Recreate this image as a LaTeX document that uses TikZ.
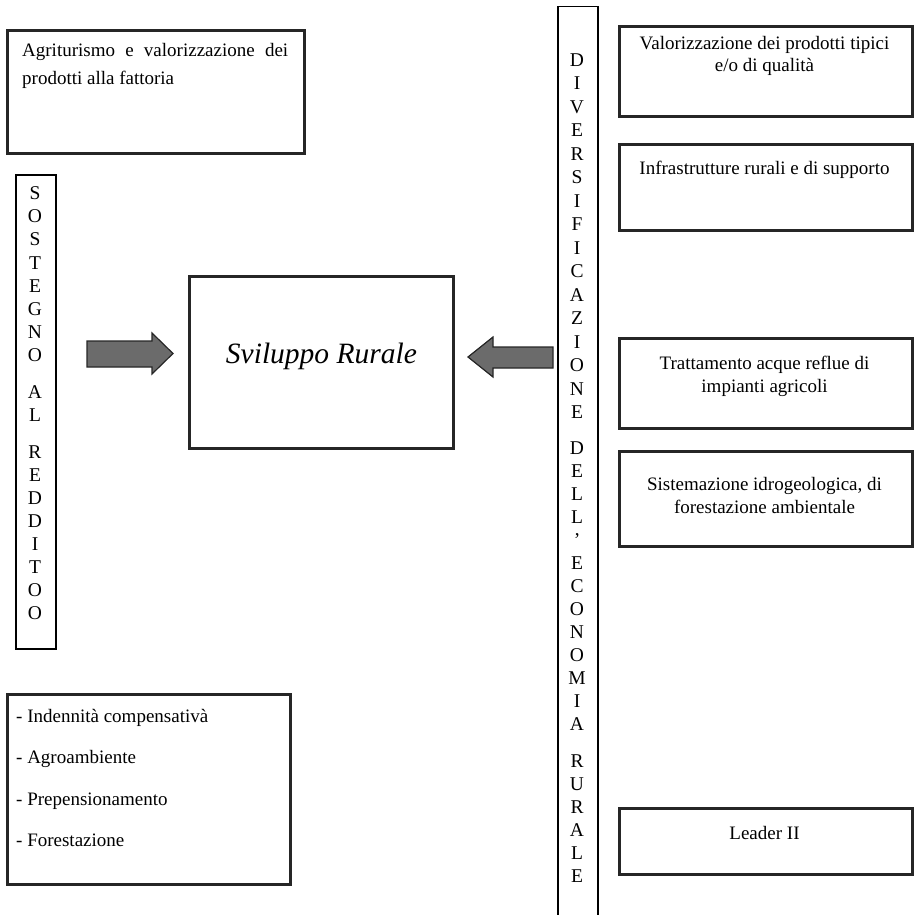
\documentclass[tikz,border=0pt]{standalone}
\usepackage{fontspec}
\setmainfont{Liberation Serif}
\begin{document}
\begin{tikzpicture}[x=1pt,y=-1pt,
  box/.style={draw=black!85, line width=2.8pt, inner sep=0pt, anchor=north west},
  thinbox/.style={draw=black, line width=1.5pt, inner sep=0pt, anchor=north west},
  txt/.style={font=\fontsize{19}{22}\selectfont, inner sep=0pt},
  letter/.style={font=\fontsize{19.5}{22}\selectfont, inner sep=0pt, anchor=base},
  blockarrow/.style={fill=black!58, draw=black!85, line width=1.2pt, line join=miter}]
\useasboundingbox (0,0) rectangle (913,915);

% frames
\node[box, minimum width=297pt, minimum height=123pt] (agri) at (6,29) {};
\node[thinbox, minimum width=40pt, minimum height=474pt] (sost) at (15,174) {};
\node[box, minimum width=264pt, minimum height=172pt] (svil) at (188,275) {};
\node[box, minimum width=283pt, minimum height=190pt] (misure) at (6,693) {};
\node[thinbox, minimum width=40pt, minimum height=940pt] (div) at (557,6) {};
\node[box, minimum width=293pt, minimum height=90pt] (val) at (618,25) {};
\node[box, minimum width=293pt, minimum height=86pt] (infra) at (618,143) {};
\node[box, minimum width=293pt, minimum height=90pt] (tratt) at (618,337) {};
\node[box, minimum width=293pt, minimum height=95pt] (sist) at (618,450) {};
\node[box, minimum width=293pt, minimum height=66pt] (leader) at (618,807) {};

% box texts
\node[txt, anchor=base west] (agri1) at (22,57)
  {\hbox to 266pt{Agriturismo\hfill e\hfill valorizzazione\hfill dei}};
\node[txt, anchor=base west] (agri2) at (22,85) {prodotti alla fattoria};

\node[inner sep=0pt, anchor=base, font=\fontsize{29.5}{34}\selectfont\itshape]
  (sviltxt) at (svil.north |- 0,363) {Sviluppo Rurale};

\node[txt, anchor=base west] (mis1) at (16,722) {- Indennità compensativà};
\node[txt, anchor=base west] (mis2) at (16,763.5) {- Agroambiente};
\node[txt, anchor=base west] (mis3) at (16,805) {- Prepensionamento};
\node[txt, anchor=base west] (mis4) at (16,846.5) {- Forestazione};

\node[txt, anchor=base] (val1) at (764.5,50) {Valorizzazione dei prodotti tipici};
\node[txt, anchor=base] (val2) at (764.5,72) {e/o di qualità};
\node[txt, anchor=base] (infra1) at (764.5,174) {Infrastrutture rurali e di supporto};
\node[txt, anchor=base] (tratt1) at (764.5,369) {Trattamento acque reflue di};
\node[txt, anchor=base] (tratt2) at (764.5,392) {impianti agricoli};
\node[txt, anchor=base] (sist1) at (764.5,490) {Sistemazione idrogeologica, di};
\node[txt, anchor=base] (sist2) at (764.5,513) {forestazione ambientale};
\node[txt, anchor=base] (leader1) at (764.5,839) {Leader II};

% vertical lettering, left column
\foreach \t/\y [count=\i] in {S/193, O/216.2, S/239.4, T/262.6, E/285.8, G/309,
    N/332.2, O/355.4, A/392, L/415.2, R/452, E/475, D/498, D/521, I/544,
    T/567, O/590, O/613}
  \node[letter] (sl\i) at (35,\y+6.5) {\t};

% vertical lettering, right column
\foreach \t/\y [count=\i] in {D/60, I/83.5, V/107, E/130.4, R/153.9, S/177.3,
    I/200.8, F/224.3, I/247.7, C/271, A/294.7, Z/318, I/341.6, O/365, N/388.5,
    E/412, D/448, E/471, L/494, L/517, ’/540, E/563, C/586, O/609, N/632,
    O/655, M/678, I/701, A/724, R/761, U/784, R/807, A/830, L/853, E/876}
  \node[letter] (dl\i) at (577,\y+6.5) {\t};

% block arrows pointing at the central box
\draw[blockarrow] (87,341) -- (152,341) -- (152,333) -- (173,353.5)
  -- (152,374) -- (152,367) -- (87,367) -- cycle;
\draw[blockarrow] (553,347) -- (493,347) -- (493,337) -- (468,357)
  -- (493,377) -- (493,368) -- (553,368) -- cycle;
\end{tikzpicture}
\end{document}
